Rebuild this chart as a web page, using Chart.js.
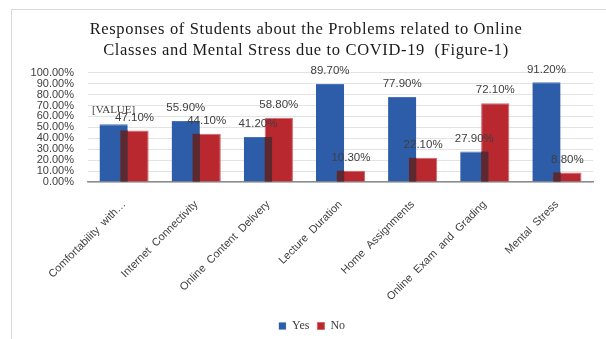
<!DOCTYPE html>
<html>
<head>
<meta charset="utf-8">
<script src="https://cdn.jsdelivr.net/npm/chart.js@4.4.1/dist/chart.umd.min.js"></script>
<style>
  html, body { margin: 0; padding: 0; background: #fff; overflow: hidden; }
  /* moldura cinza do gráfico (continua além da borda direita/inferior) */
  #moldura { position: absolute; left: 11px; top: 9px; width: 640px; height: 380px; border: 1px solid #d9d9d9; }
  #grafico { position: absolute; left: 0; top: 0; }
</style>
</head>
<body>
<div id="moldura"></div>
<canvas id="grafico" width="606" height="339"></canvas>
<script>
// ============================================================
// Respostas dos alunos (Sim / Não) por problema
// ============================================================

const categorias = [
  'Comfortability  with…',
  'Internet  Connectivity',
  'Online  Content  Delivery',
  'Lecture  Duration',
  'Home  Assignments',
  'Online  Exam  and  Grading',
  'Mental  Stress'
];

// percentuais de cada resposta
const valoresSim = [52.9, 55.9, 41.2, 89.7, 77.9, 27.9, 91.2];
const valoresNao = [47.1, 44.1, 58.8, 10.3, 22.1, 72.1, 8.8];

// o primeiro rótulo da série "Yes" ficou com o campo não preenchido
const textoRotuloSim = ['[VALUE]', null, null, null, null, null, null];

// marcas do eixo Y (em %)
const ticksEixoY = [0, 10, 20, 30, 40, 50, 60, 70, 80, 90, 100];

const titulo = [
  'Responses of Students about the Problems related to Online',
  'Classes and Mental Stress due to COVID-19  (Figure-1)'
];

const COR_SIM = '#2d5ca8';
const COR_NAO = '#b9272f';
const COR_SOBREPOSICAO = '#5e292e';


// As barras de Sim e Não se sobrepõem um pouco; a parte comum
// é pintada escura, como uma sombra.
const sombraSobreposicao = {
  id: 'sombraSobreposicao',
  afterDatasetsDraw(chart) {
    const ctx = chart.ctx;
    const sim = chart.getDatasetMeta(0).data;
    const nao = chart.getDatasetMeta(1).data;
    ctx.save();
    ctx.fillStyle = COR_SOBREPOSICAO;
    sim.forEach((barraSim, i) => {
      const barraNao = nao[i];
      const esq = Math.max(barraSim.x - barraSim.width / 2, barraNao.x - barraNao.width / 2);
      const dir = Math.min(barraSim.x + barraSim.width / 2, barraNao.x + barraNao.width / 2);
      const topo = Math.max(barraSim.y, barraNao.y); // a mais baixa das duas
      const base = barraSim.base;
      if (dir > esq && base > topo) ctx.fillRect(esq, topo, dir - esq, base - topo);
    });
    ctx.restore();
  }
};

// Rótulos de valor acima de cada barra
const rotulosValor = {
  id: 'rotulosValor',
  afterDatasetsDraw(chart) {
    const ctx = chart.ctx;
    ctx.save();
    ctx.textAlign = 'center';
    ctx.textBaseline = 'middle';
    ctx.fillStyle = '#404040';
    chart.data.datasets.forEach((ds, d) => {
      chart.getDatasetMeta(d).data.forEach((barra, i) => {
        const especial = d === 0 ? textoRotuloSim[i] : null;
        if (especial) {
          ctx.font = '11px "Liberation Serif", serif';
          ctx.fillText(especial, barra.x, barra.y - 14);
        } else {
          ctx.font = '11.5px "Liberation Sans", sans-serif';
          ctx.fillText(ds.data[i].toFixed(2) + '%', barra.x, barra.y - 13);
        }
      });
    });
    ctx.restore();
  }
};

// Título com as letras mais espaçadas
const espacamentoTitulo = {
  id: 'espacamentoTitulo',
  beforeDraw(chart) {
    const bloco = chart.titleBlock;
    if (!bloco || bloco._espacado) return;
    const desenhar = bloco.draw.bind(bloco);
    bloco.draw = area => {
      chart.ctx.save();
      chart.ctx.letterSpacing = '0.65px';
      desenhar(area);
      chart.ctx.restore();
    };
    bloco._espacado = true;
  }
};

// Legenda um pouco mais para a direita e para baixo
const ajusteLegenda = {
  id: 'ajusteLegenda',
  afterLayout(chart) {
    const leg = chart.legend;
    leg.left += 6; leg.right += 6;
    leg.top += 7; leg.bottom += 7;
  }
};

// posições fixas da área do gráfico
const PAD_ESQ = 19;
const AREA_ESQ = 88;
const AREA_BASE = 182;

new Chart(document.getElementById('grafico'), {
  type: 'bar',
  data: {
    labels: categorias,
    datasets: [
      {
        label: 'Yes',
        data: valoresSim,
        backgroundColor: COR_SIM,
        borderColor: '#4673bd',
        borderWidth: { top: 1, left: 0, right: 0, bottom: 0 },
        categoryPercentage: 0.58,
        barPercentage: 1.35
      },
      {
        label: 'No',
        data: valoresNao,
        backgroundColor: COR_NAO,
        borderColor: '#d4636b',
        borderWidth: 1,
        categoryPercentage: 0.58,
        barPercentage: 1.35
      }
    ]
  },
  options: {
    responsive: false,
    animation: false,
    layout: { padding: { left: PAD_ESQ, right: 13, top: 0, bottom: 4 } },
    plugins: {
      title: {
        display: true,
        text: titulo,
        color: '#1a1a1a',
        font: { family: '"Liberation Serif", serif', size: 16.5, weight: 'normal', lineHeight: 1.25 },
        padding: { top: 19.5, bottom: 12 }
      },
      legend: {
        position: 'bottom',
        labels: {
          boxWidth: 7,
          boxHeight: 7,
          color: '#404040',
          padding: 8,
          font: { family: '"Liberation Serif", serif', size: 12 }
        }
      },
      tooltip: { enabled: false }
    },
    scales: {
      x: {
        grid: { display: false, drawTicks: false },
        border: { color: '#8c8c8c', width: 1.5 },
        ticks: {
          color: '#404040',
          font: { family: '"Liberation Sans", sans-serif', size: 11 },
          maxRotation: 45,
          minRotation: 45,
          autoSkip: false,
          padding: 16
        },
        afterFit: scale => {
          // o eixo X ocupa o espaço entre a base das barras e a legenda
          const ch = scale.chart;
          scale.height = ch.height - 4 - ch.legend.height - AREA_BASE;
        }
      },
      y: {
        min: 0,
        max: 100,
        grid: { color: '#e3e3e3', drawTicks: false },
        border: { display: false },
        afterBuildTicks: scale => {
          scale.ticks = ticksEixoY.map(v => ({ value: v }));
        },
        ticks: {
          autoSkip: false,
          color: '#404040',
          padding: 14,
          font: { family: '"Liberation Sans", sans-serif', size: 11 },
          callback: v => v.toFixed(2) + '%'
        },
        afterFit: scale => { scale.width = AREA_ESQ - PAD_ESQ; }
      }
    }
  },
  plugins: [sombraSobreposicao, rotulosValor, espacamentoTitulo, ajusteLegenda]
});
</script>
</body>
</html>
